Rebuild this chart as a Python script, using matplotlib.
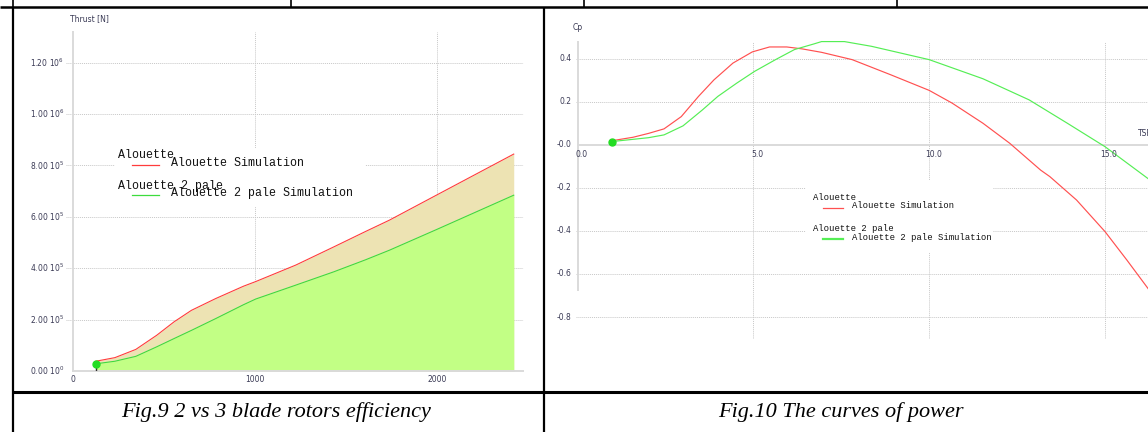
import matplotlib
matplotlib.use('Agg')
import matplotlib.pyplot as plt
from matplotlib.lines import Line2D
from matplotlib.patches import Rectangle

plt.rcParams['mathtext.default'] = 'regular'

# ---------------- data ----------------
# Fig.9 : thrust vs rotational speed
speed = [124, 229, 344, 459, 554, 650, 784, 937, 1004, 1224, 1434, 1606, 1740, 1998, 2424]
thrust_3_blade = [3.8e4, 5.2e4, 8.4e4, 1.39e5, 1.91e5, 2.36e5, 2.82e5, 3.30e5, 3.48e5,
                  4.12e5, 4.83e5, 5.42e5, 5.87e5, 6.84e5, 8.44e5]
thrust_2_blade = [2.8e4, 3.8e4, 5.7e4, 9.4e4, 1.26e5, 1.58e5, 2.04e5, 2.58e5, 2.80e5,
                  3.34e5, 3.86e5, 4.32e5, 4.70e5, 5.50e5, 6.84e5]
thrust_yticks = [0, 2e5, 4e5, 6e5, 8e5, 1.0e6, 1.2e6]
thrust_yticklabels = [r'0.00 10$^{0}$', r'2.00 10$^{5}$', r'4.00 10$^{5}$', r'6.00 10$^{5}$',
                      r'8.00 10$^{5}$', r'1.00 10$^{6}$', r'1.20 10$^{6}$']
speed_xticks = [0, 1000, 2000]

# Fig.10 : power coefficient vs tip speed ratio
tsr_3_blade = [0.98, 1.58, 2.02, 2.46, 2.95, 3.44, 3.88, 4.42, 4.97, 5.46, 5.95, 6.39, 6.94,
               7.81, 8.90, 10.0, 10.65, 11.53, 12.29, 13.17, 13.43, 14.19, 15.0, 15.62, 16.22, 16.8]
cp_3_blade = [0.020, 0.036, 0.054, 0.075, 0.132, 0.226, 0.303, 0.381, 0.433, 0.456, 0.456, 0.447,
              0.431, 0.397, 0.327, 0.254, 0.195, 0.101, 0.008, -0.117, -0.147, -0.256, -0.403,
              -0.535, -0.667, -0.80]
tsr_2_blade = [0.98, 2.02, 2.46, 3.0, 3.55, 3.99, 4.53, 5.03, 5.63, 6.17, 6.72, 6.94, 7.59, 8.36,
               10.0, 11.53, 12.84, 13.93, 15.0, 16.22, 17.0]
cp_2_blade = [0.016, 0.034, 0.047, 0.089, 0.163, 0.226, 0.288, 0.342, 0.397, 0.444, 0.470, 0.481,
              0.481, 0.459, 0.397, 0.308, 0.210, 0.101, -0.008, -0.156, -0.26]
cp_yticks = [0.4, 0.2, 0.0, -0.2, -0.4, -0.6, -0.8]
cp_yticklabels = ['0.4', '0.2', '-0.0', '-0.2', '-0.4', '-0.6', '-0.8']
tsr_xticks = [0.0, 5.0, 10.0, 15.0]
tsr_xticklabels = ['0.0', '5.0', '10.0', '15.0']

legend_titles = ['Alouette', 'Alouette 2 pale']
legend_labels = ['Alouette Simulation', 'Alouette 2 pale Simulation']
captions = ['Fig.9 2 vs 3 blade rotors efficiency', 'Fig.10 The curves of power']

# ---------------- style ----------------
W, H = 1148, 432
RED = '#ff3c3c'
GREEN = '#3ddc3d'
RED2 = '#ff5050'
GREEN2 = '#55ee55'
TAN = '#ede3b3'
LGREEN = '#c2ff85'
TXT = '#3a3a55'
GRID = '#c8c8c8'
AXC = '#dadada'
TICKFS = 5.5

fig = plt.figure(figsize=(W / 100, H / 100), dpi=100)
fig.patch.set_facecolor('white')


def fx(px):
    return px / W


def fy(py):
    return 1 - py / H


def fline(xs, ys, lw):
    fig.add_artist(Line2D([fx(x) for x in xs], [fy(y) for y in ys], color='black',
                          lw=lw, transform=fig.transFigure, solid_capstyle='butt'))


# table borders
fline([0, W], [6.5, 6.5], 1.8)
for x in [13, 291, 584, 897]:
    fline([x, x], [0, 6.5], 1.2)
fline([13, 13], [6.5, H], 1.6)
fline([544, 544], [6.5, H], 1.6)
fline([13, W], [392, 392], 2.2)

# ================= left panel =================
L0, L1, B0, T0 = 73.3, 523, 371, 32
ax1 = fig.add_axes([fx(L0), fy(B0), (L1 - L0) / W, (B0 - T0) / H])
ax1.set_xlim(0, 2475)
ax1.set_ylim(0, 1.319e6)
for s in ['top', 'right']:
    ax1.spines[s].set_visible(False)
for s in ['left', 'bottom']:
    ax1.spines[s].set_color(AXC)
    ax1.spines[s].set_linewidth(1.4)
ax1.set_xticks([])
ax1.set_yticks([])
for v in thrust_yticks[1:]:
    ax1.plot([-0.016, 1], [v, v], transform=ax1.get_yaxis_transform(), color=GRID,
             ls=(0, (1, 1)), lw=0.7, clip_on=False, zorder=0)
for v in speed_xticks[1:]:
    ax1.axvline(v, color=GRID, ls=(0, (1, 1)), lw=0.7, zorder=0)

ax1.fill_between(speed, 0, thrust_3_blade, color=TAN, lw=0, zorder=1)
ax1.fill_between(speed, 0, thrust_2_blade, color=LGREEN, lw=0, zorder=2)
ax1.plot(speed, thrust_3_blade, color=RED, lw=0.8, zorder=3)
ax1.plot(speed, thrust_2_blade, color=GREEN, lw=0.8, zorder=3)
ax1.vlines(speed[0], 0, thrust_2_blade[0], color='#303030', lw=1.0, zorder=4)
ax1.plot([speed[0]], [thrust_2_blade[0]], 'o', color='#22dd22', ms=5, zorder=5)

for v, lab in zip(thrust_yticks, thrust_yticklabels):
    ax1.annotate(lab, xy=(0, v), xytext=(-9, 0), textcoords='offset pixels',
                 ha='right', va='center', fontsize=TICKFS, color=TXT, annotation_clip=False)
for v in speed_xticks:
    ax1.annotate(str(v), xy=(v, 0), xytext=(0, -9), textcoords='offset pixels',
                 ha='center', va='center', fontsize=TICKFS, color=TXT, annotation_clip=False)
fig.text(fx(89), fy(19), 'Thrust [N]', ha='center', va='center', fontsize=TICKFS, color=TXT)


def a1(px, py):
    return ((px - L0) / (L1 - L0), (B0 - py) / (B0 - T0))


x0, y0 = a1(115, 207)
x1, y1 = a1(365, 148)
ax1.add_patch(Rectangle((x0, y0), x1 - x0, y1 - y0, transform=ax1.transAxes,
                        facecolor='white', edgecolor='none', zorder=0.5))
mono = 'Liberation Mono'
for i, (tt, lab, col) in enumerate(zip(legend_titles, legend_labels, [RED, GREEN])):
    dy = i * 30
    ax1.text(*a1(118, 155.5 + dy), tt, transform=ax1.transAxes, family=mono, fontsize=8.4,
             ha='left', va='center', color='#111111')
    p, q = a1(131.5, 165 + dy), a1(159, 165 + dy)
    ax1.plot([p[0], q[0]], [p[1], q[1]], transform=ax1.transAxes, color=col, lw=0.9)
    ax1.text(*a1(171, 163.3 + dy), lab, transform=ax1.transAxes, family=mono, fontsize=8.4,
             ha='left', va='center', color='#111111')

# ================= right panel =================
R0, PXU = 577.5, 35.17
Y0, PYU = 145.0, 215.0
xmax, ytop, ybot = 17.5, 0.479, -0.9
ax2 = fig.add_axes([fx(R0), fy(Y0 - ybot * PYU), xmax * PXU / W, (ytop - ybot) * PYU / H])
ax2.set_xlim(0, xmax)
ax2.set_ylim(ybot, ytop)
for s in ['top', 'right']:
    ax2.spines[s].set_visible(False)
ax2.spines['bottom'].set_position(('data', 0))
for s in ['left', 'bottom']:
    ax2.spines[s].set_color(AXC)
    ax2.spines[s].set_linewidth(1.4)
ax2.spines['left'].set_bounds(-0.675, ytop)
ax2.set_xticks([])
ax2.set_yticks([])
for v in cp_yticks:
    if v != 0:
        ax2.plot([-0.003, 1], [v, v], transform=ax2.get_yaxis_transform(), color=GRID,
                 ls=(0, (1, 1)), lw=0.7, clip_on=False, zorder=0)
for v in tsr_xticks[1:]:
    ax2.axvline(v, color=GRID, ls=(0, (1, 1)), lw=0.7, zorder=0)

ax2.plot(tsr_3_blade, cp_3_blade, color=RED2, lw=0.85, zorder=3, clip_on=False)
ax2.plot(tsr_2_blade, cp_2_blade, color=GREEN2, lw=0.85, zorder=3, clip_on=False)
ax2.plot([tsr_2_blade[0]], [cp_2_blade[0]], 'o', color='#22dd22', ms=5, zorder=5)

for v, lab in zip(cp_yticks, cp_yticklabels):
    ax2.annotate(lab, xy=(0, v), xytext=(-6, 0), textcoords='offset pixels',
                 ha='right', va='center', fontsize=TICKFS, color=TXT, annotation_clip=False)
for v, lab in zip(tsr_xticks, tsr_xticklabels):
    ax2.annotate(lab, xy=(v, 0), xytext=(4, -10), textcoords='offset pixels',
                 ha='center', va='center', fontsize=TICKFS, color=TXT, annotation_clip=False)
fig.text(fx(578), fy(27), 'Cp', ha='center', va='center', fontsize=TICKFS, color=TXT)
fig.text(fx(1138), fy(133), 'TSR', ha='left', va='center', fontsize=TICKFS, color=TXT)


def a2(px, py):
    return ((px - R0) / PXU, (Y0 - py) / PYU)


x0, y0 = a2(806, 252)
x1, y1 = a2(993, 180)
ax2.add_patch(Rectangle((x0, y0), x1 - x0, y1 - y0, facecolor='white', edgecolor='none',
                        zorder=0.5))
for i, (tt, lab, col, lw) in enumerate(zip(legend_titles, legend_labels, [RED2, GREEN2], [0.9, 1.6])):
    dy = i * 31.5
    ax2.text(*a2(813, 197.3 + dy), tt, family=mono, fontsize=6.4, ha='left', va='center',
             color='#111111')
    p, q = a2(823, 207.7 + dy), a2(843, 207.7 + dy)
    ax2.plot([p[0], q[0]], [p[1], q[1]], color=col, lw=lw)
    ax2.text(*a2(852, 205.7 + dy), lab, family=mono, fontsize=6.4, ha='left', va='center',
             color='#111111')

# captions
for cx, cap in zip([276.5, 840.5], captions):
    fig.text(fx(cx), fy(412), cap, ha='center', va='center', family='Liberation Serif',
             style='italic', fontsize=16, color='black')

fig.savefig('out.png', dpi=100)
